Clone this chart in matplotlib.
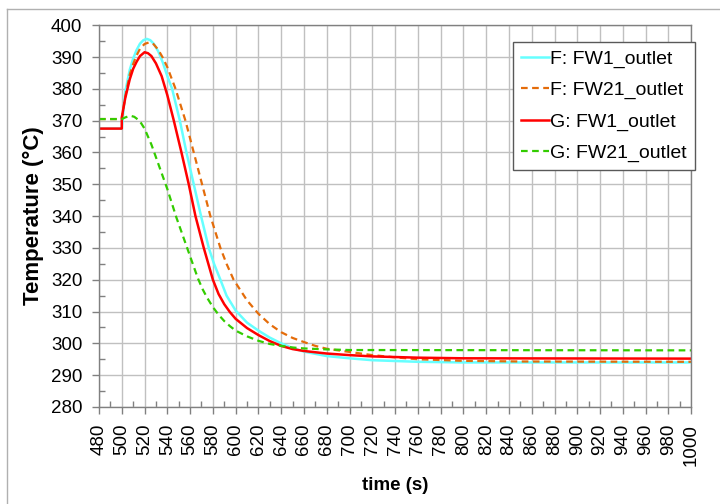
import matplotlib
matplotlib.use('Agg')
import matplotlib.pyplot as plt
from matplotlib.lines import Line2D
from matplotlib.ticker import MultipleLocator

# values
f_fw1_t = [480, 500, 503, 507, 510, 513, 516, 519, 522, 525, 528, 532, 536,
           540, 544.2, 551, 556.8, 563.2, 569.6, 576.4, 581, 586.6, 592, 600,
           610, 620, 630, 640, 650, 660, 680, 700, 720, 760, 800, 1000]
f_fw1_T = [367.5, 367.5, 379, 386, 389.5, 392.2, 394.2, 395.3, 395.7, 395.3,
           394.2, 391.8, 388.3, 384, 380, 370, 360, 350, 340, 330, 325, 320,
           315, 310.3, 306.5, 304, 301.8, 300, 298.5, 297.4, 296, 295.3,
           294.7, 294.2, 294.0, 294.0]

f_fw21_t = [480, 500, 503, 507, 510, 513, 516, 520, 524, 528, 532, 536, 540,
            547.2, 555.9, 563.2, 570.5, 577.8, 586.6, 592, 598.2, 610, 620,
            630, 640, 650, 660, 670, 680, 700, 720, 740, 760, 800, 850, 1000]
f_fw21_T = [370.5, 370.5, 377.5, 384.5, 387.8, 390.5, 392.6, 394.1, 394.6,
            394, 392.3, 389.8, 386.8, 380, 370, 360, 350, 340, 330, 325, 320,
            313.5, 309.3, 306, 303.5, 301.7, 300.4, 299.2, 298.3, 297.3,
            296.3, 295.6, 295.0, 294.5, 294.3, 294.2]

g_fw1_t = [480, 500, 500, 503, 507, 510, 513, 516, 520, 523, 526, 530, 535,
           540, 545.7, 552.4, 558.8, 564.7, 572, 580, 585, 590, 595, 600, 610,
           620, 630, 640, 650, 660, 680, 700, 720, 760, 800, 1000]
g_fw1_T = [367.5, 367.5, 371, 377, 383, 386.3, 388.5, 390.3, 391.5, 391.2,
           390.3, 388, 384, 378, 370, 360, 350, 340, 330, 320, 315.5, 312.3,
           309.8, 307.7, 304.8, 302.6, 300.7, 299.2, 298.2, 297.6, 296.8,
           296.3, 295.9, 295.5, 295.3, 295.2]

g_fw21_t = [480, 500, 503, 506, 508, 511, 514, 517, 520, 523, 526, 530, 535,
            540, 548, 557.4, 563, 567, 571, 575, 580, 585, 590, 595, 600, 610,
            620, 630, 640, 650, 660, 680, 700, 1000]
g_fw21_T = [370.5, 370.5, 371, 371.4, 371.5, 371.2, 370.4, 369.2, 367.5, 365,
            362.5, 358.5, 353.5, 348.5, 339.5, 330, 324.3, 320.3, 317, 314.3,
            311.4, 309, 307, 305.4, 304, 302.2, 300.8, 299.8, 299.2, 298.7,
            298.4, 298.1, 297.9, 297.8]

plt.rcParams['font.family'] = ['Liberation Sans', 'DejaVu Sans']
plt.rcParams['font.size'] = 13.5

fig = plt.figure(figsize=(7.2, 5.04), dpi=100)
ax = fig.add_axes([0.1375, 0.1925, 0.8225, 0.7575])

ax.plot(f_fw1_t, f_fw1_T, color='#66ffff', lw=1.8, label='F: FW1_outlet')
ax.plot(f_fw21_t, f_fw21_T, color='#e46c0a', lw=1.6, dashes=(3, 2),
        label='F: FW21_outlet')
ax.plot(g_fw1_t, g_fw1_T, color='#ff0000', lw=1.8, label='G: FW1_outlet')
ax.plot(g_fw21_t, g_fw21_T, color='#33cc00', lw=1.6, dashes=(3, 2),
        label='G: FW21_outlet')

ax.set_xlim(480, 1000)
ax.set_ylim(280, 400)
ax.xaxis.set_major_locator(MultipleLocator(20))
ax.xaxis.set_minor_locator(MultipleLocator(10))
ax.yaxis.set_major_locator(MultipleLocator(10))
ax.yaxis.set_minor_locator(MultipleLocator(5))
ax.grid(True, which='major', color='#c0c0c0', lw=1)
ax.tick_params(which='major', direction='out', length=5, width=1,
               color='#808080', pad=7)
ax.tick_params(which='minor', direction='in', length=4, width=1,
               color='#808080')
ax.tick_params(axis='x', labelrotation=90)
for s in ax.spines.values():
    s.set_color('#808080')
    s.set_linewidth(1)

ax.set_xlabel('time (s)', fontweight='bold', labelpad=8)
ax.set_ylabel('Temperature (°C)', fontweight='bold', fontsize=16, labelpad=5)

leg = ax.legend(loc='upper right', bbox_to_anchor=(1.006, 0.955),
                fancybox=False, framealpha=1, edgecolor='#595959',
                fontsize=14, handlelength=1.45, handletextpad=0.05,
                labelspacing=0.7, borderaxespad=0, borderpad=0.4)
leg.get_frame().set_linewidth(1)

# outer frame of the original picture
fig.add_artist(Line2D([7 / 720, 1], [1 - 9 / 504, 1 - 9 / 504],
                      color='#b0b0b0', lw=1))
fig.add_artist(Line2D([7 / 720, 7 / 720], [0, 1 - 9 / 504],
                      color='#b0b0b0', lw=1))

fig.savefig('out.png', dpi=100)
